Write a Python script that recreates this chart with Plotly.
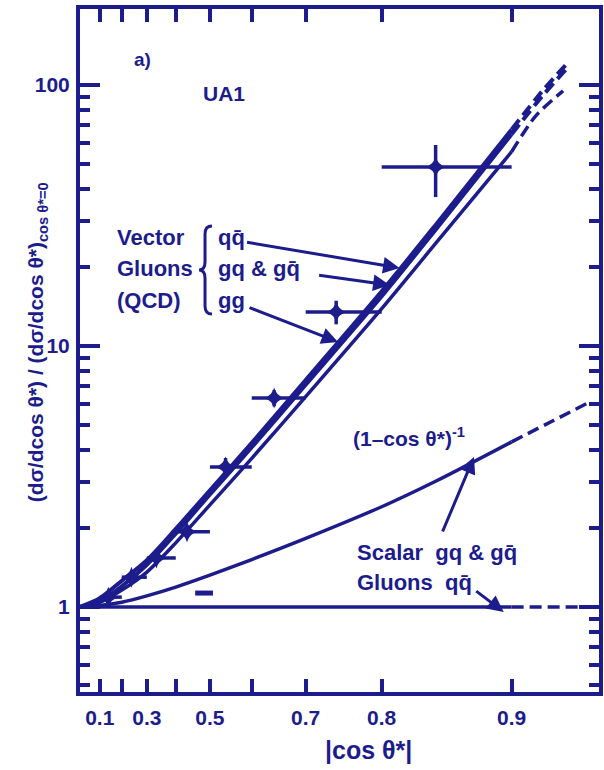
import numpy as np
import plotly.graph_objects as go

NAVY = "#1c1c8c"
FONT = "Liberation Sans"

# ---- normalised angular distributions (dσ/dcosθ*) / (dσ/dcosθ*)|cosθ*=0 ----
cos_grid = [0.0, 0.1, 0.2, 0.3, 0.4, 0.5, 0.6, 0.7, 0.8, 0.85, 0.9]
qqbar_vec = [1.0, 1.08, 1.26, 1.51, 1.99, 2.80, 4.25, 7.40, 16.2, 29.1, 67.5]
gq_vec = [1.0, 1.05, 1.20, 1.45, 1.91, 2.70, 4.09, 7.10, 15.5, 27.9, 64.8]
gg_vec = [1.0, 1.04, 1.16, 1.36, 1.76, 2.46, 3.71, 6.40, 13.9, 24.7, 55.5]
scalar_gq = [1.0, 1.012, 1.042, 1.102, 1.191, 1.323, 1.519, 1.830, 2.42, 3.03, 4.29]
scalar_qqbar = [1.0, 1.0, 1.0, 1.0, 1.0, 1.0, 1.0, 1.0, 1.0, 1.0, 1.0]

# extrapolations beyond |cos θ*| = 0.9 (dashed)
cos_ext_vec = [0.9, 0.915, 0.926]
qqbar_ext = [67.5, 94.5, 122.0]
gq_ext = [64.8, 90.5, 117.0]
cos_ext_gg = [0.9, 0.912, 0.924]
gg_ext = [55.5, 76.0, 95.0]
cos_ext_scalar = [0.9, 0.92, 0.934]
scalar_gq_ext = [4.29, 5.18, 6.09]
cos_ext_flat = [0.9, 0.938]
scalar_qqbar_ext = [1.0, 1.0]

# ---- UA1 two-jet data ----
cos_data = [0.14, 0.24, 0.335, 0.435, 0.54, 0.645, 0.745, 0.85]
ratio_data = [1.09, 1.30, 1.54, 1.94, 3.44, 6.32, 13.5, 48.5]
err_plus = [0.04, 0.05, 0.07, 0.10, 0.28, 0.45, 1.4, 10.4]
err_minus = [0.04, 0.05, 0.07, 0.10, 0.28, 0.45, 1.4, 11.3]
bin_lo = [0.1, 0.2, 0.3, 0.4, 0.5, 0.6, 0.7, 0.8]
bin_hi = [0.2, 0.3, 0.4, 0.5, 0.6, 0.7, 0.8, 0.9]

# short isolated bar near |cos θ*| ~ 0.5
bar_cos = [0.459, 0.508]
bar_val = [1.13, 1.13]

tick_cos = [0.1, 0.2, 0.3, 0.4, 0.5, 0.6, 0.7, 0.8, 0.9]
tick_text = ["0.1", "", "0.3", "", "0.5", "", "0.7", "0.8", "0.9"]


def chi(c):
    """Horizontal scale: -ln(1 - |cos θ*|)."""
    return -np.log1p(-np.asarray(c, dtype=float))


fig = go.Figure()


def curve(c, v, width, dash="solid"):
    fig.add_trace(go.Scatter(
        x=chi(c), y=v, mode="lines",
        line=dict(color=NAVY, width=width, dash=dash, shape="spline", smoothing=0.8),
        hoverinfo="skip", showlegend=False))


DASH = "12px,6px"
for c, v, w in [(cos_grid, scalar_qqbar, 3.5), (cos_grid, scalar_gq, 3.5),
                (cos_grid, gg_vec, 3.5), (cos_grid, gq_vec, 4), (cos_grid, qqbar_vec, 4)]:
    curve(c, v, w)
for c, v, w in [(cos_ext_flat, scalar_qqbar_ext, 3.5), (cos_ext_scalar, scalar_gq_ext, 3.5),
                (cos_ext_gg, gg_ext, 3.5), (cos_ext_vec, gq_ext, 4), (cos_ext_vec, qqbar_ext, 4)]:
    curve(c, v, w, DASH)

fig.add_trace(go.Scatter(x=chi(bar_cos), y=bar_val, mode="lines",
                         line=dict(color=NAVY, width=5), hoverinfo="skip", showlegend=False))

xc = chi(cos_data)
fig.add_trace(go.Scatter(
    x=xc, y=ratio_data, mode="markers",
    marker=dict(symbol="star-diamond", size=15, color=NAVY),
    error_x=dict(type="data", symmetric=False,
                 array=chi(bin_hi) - xc, arrayminus=xc - chi(bin_lo),
                 color=NAVY, thickness=3.5, width=0),
    error_y=dict(type="data", symmetric=False, array=err_plus, arrayminus=err_minus,
                 color=NAVY, thickness=3.5, width=0),
    hoverinfo="skip", showlegend=False))

# ---- plot frame geometry (pixels) ----
W, H = 604, 770
L, R, T, B = 80, 603, 9, 692


def px(x):
    return (x - L) / (R - L)


def py(y):
    return (B - y) / (B - T)


minor_vals = [0.5, 0.6, 0.7, 0.8, 0.9] + [k for k in range(2, 10)] + [10 * k for k in range(2, 10)]

fig.update_layout(
    width=W, height=H,
    margin=dict(l=L, r=W - R, t=T, b=H - B),
    paper_bgcolor="white", plot_bgcolor="white",
    showlegend=False,
    xaxis=dict(
        range=[0, (R - L) / 188.9],
        tickmode="array", tickvals=chi(tick_cos), ticktext=tick_text,
        ticks="inside", ticklen=13, tickwidth=3.5, tickcolor=NAVY,
        showline=True, linewidth=4, linecolor=NAVY, mirror="ticks",
        showgrid=False, zeroline=False,
        tickfont=dict(family=FONT, size=21, color=NAVY, weight="bold"),
        ticklabelstandoff=4,
    ),
    yaxis=dict(
        type="log", range=[np.log10(0.472), np.log10(195.5)],
        tickmode="array", tickvals=[1, 10, 100], ticktext=["1", "10", "100"],
        ticks="inside", ticklen=20, tickwidth=3.5, tickcolor=NAVY,
        showline=True, linewidth=4, linecolor=NAVY, mirror="ticks",
        showgrid=False, zeroline=False,
        tickfont=dict(family=FONT, size=21, color=NAVY, weight="bold"),
        ticklabelstandoff=2,
        minor=dict(tickmode="array", tickvals=minor_vals, ticks="inside",
                   ticklen=10, tickwidth=3.5, tickcolor=NAVY, showgrid=False),
    ),
)


def label(text, x, y, size=22, xanchor="left", angle=0):
    fig.add_annotation(text=text, x=px(x), y=py(y), xref="paper", yref="paper",
                       xanchor=xanchor, yanchor="middle", showarrow=False,
                       textangle=angle,
                       font=dict(family=FONT, size=size, color=NAVY, weight="bold"))


def arrow(tail, tip):
    fig.add_annotation(text="", x=px(tip[0]), y=py(tip[1]), xref="paper", yref="paper",
                       ax=tail[0] - tip[0], ay=tail[1] - tip[1], axref="pixel", ayref="pixel",
                       showarrow=True, arrowhead=2, arrowsize=1.1, arrowwidth=3,
                       arrowcolor=NAVY)


label("a)", 143, 60, size=19, xanchor="center")
label("UA1", 225, 93, size=21, xanchor="center")
label("Vector", 115, 237)
label("Gluons", 115, 268)
label("(QCD)", 115, 300)
label("qq\u0304", 217, 237)
label("gq & gq\u0304", 217, 268)
label("gg", 217, 300)
label("(1\u2013cos \u03b8*)<sup>-1</sup>", 353, 437, size=21)
label("Scalar  gq & gq\u0304", 357, 552, size=22)
label("Gluons  qq\u0304", 357, 582, size=22)
label("|cos \u03b8*|", 371, 750, size=25, xanchor="center")
label("(d\u03c3/dcos \u03b8*) / (d\u03c3/dcos \u03b8*)<sub>cos \u03b8*=0</sub>",
      37, 342, size=21, xanchor="center", angle=-90)

arrow((248, 242), (402, 268))
arrow((320, 275), (392, 285))
arrow((250, 307), (340, 342))
arrow((445, 533), (477, 457))
arrow((478, 590), (507, 612))

# curly brace grouping the three vector-gluon processes
bx, btop, bmid, bbot = 206, 226, 270, 314
path = "M {:.4f},{:.4f} Q {:.4f},{:.4f} {:.4f},{:.4f} L {:.4f},{:.4f} Q {:.4f},{:.4f} {:.4f},{:.4f} " \
       "Q {:.4f},{:.4f} {:.4f},{:.4f} L {:.4f},{:.4f} Q {:.4f},{:.4f} {:.4f},{:.4f}".format(
           px(213), py(btop), px(bx), py(btop), px(bx), py(btop + 8),
           px(bx), py(bmid - 8),
           px(bx), py(bmid), px(bx - 6), py(bmid),
           px(bx), py(bmid), px(bx), py(bmid + 8),
           px(bx), py(bbot - 8),
           px(bx), py(bbot), px(213), py(bbot))
fig.add_shape(type="path", path=path, xref="paper", yref="paper",
              line=dict(color=NAVY, width=3))

fig.write_html("out.html")
